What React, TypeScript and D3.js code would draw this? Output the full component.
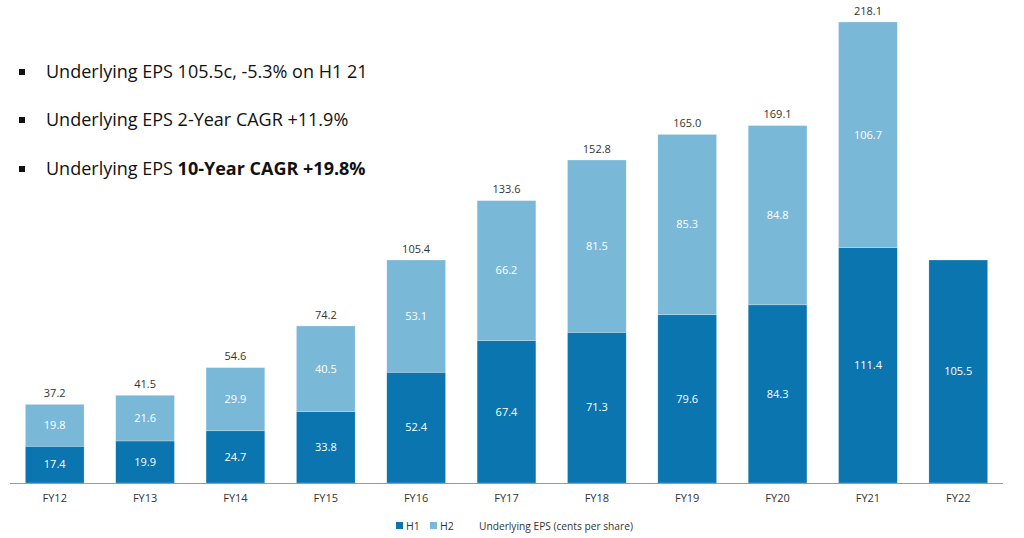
import * as d3 from 'd3';

const years = ['FY12', 'FY13', 'FY14', 'FY15', 'FY16', 'FY17', 'FY18', 'FY19', 'FY20', 'FY21', 'FY22'];
const h1 = [17.4, 19.9, 24.7, 33.8, 52.4, 67.4, 71.3, 79.6, 84.3, 111.4, 105.5];
const h2: (number | null)[] = [19.8, 21.6, 29.9, 40.5, 53.1, 66.2, 81.5, 85.3, 84.8, 106.7, null];
const totals: (number | null)[] = [37.2, 41.5, 54.6, 74.2, 105.4, 133.6, 152.8, 165.0, 169.1, 218.1, null];

const W = 1024;
const H = 538;
const C1 = '#0a75ae';
const C2 = '#7ab8d8';
const font = "'Open Sans', 'Liberation Sans', sans-serif";

export default function App() {
  const x = d3.scaleBand<string>().domain(years).range([10, 1003]).paddingInner(0.35).paddingOuter(0.17);
  const y = d3.scaleLinear().domain([0, 218.1]).range([483, 22]);
  const bw = x.bandwidth();

  return (
    <svg width={W} height={H} style={{ position: 'absolute', left: 0, top: 0, background: '#fff' }} fontFamily={font}>
      {/* bullets */}
      {[
        [<tspan>Underlying EPS 105.5c, -5.3% on H1 21</tspan>, 72],
        [<tspan>Underlying EPS 2-Year CAGR +11.9%</tspan>, 120],
        [<><tspan>Underlying EPS </tspan><tspan fontWeight={700}>10-Year CAGR +19.8%</tspan></>, 169],
      ].map(([t, cy], i) => (
        <g key={i}>
          <rect x={19} y={(cy as number) - 3} width={6} height={6} fill="#111" />
          <text x={46} y={cy as number} dy="0.35em" fontSize={18} fill="#111">{t}</text>
        </g>
      ))}

      {years.map((yr, i) => {
        const x0 = x(yr)!;
        const cx = x0 + bw / 2;
        const a = h1[i];
        const b = h2[i];
        const tot = totals[i];
        return (
          <g key={yr}>
            <rect x={x0} y={y(a)} width={bw} height={y(0) - y(a)} fill={C1} stroke="#fff" strokeOpacity={0.4} strokeWidth={0.6} />
            <text x={cx} y={(y(0) + y(a)) / 2} dy="0.35em" textAnchor="middle" fontSize={11} fill="#fff">{a.toFixed(1)}</text>
            {b != null && (
              <>
                <rect x={x0} y={y(a + b)} width={bw} height={y(a) - y(a + b)} fill={C2} stroke="#fff" strokeOpacity={0.4} strokeWidth={0.6} />
                <text x={cx} y={(y(a) + y(a + b)) / 2} dy="0.35em" textAnchor="middle" fontSize={11} fill="#fff">{b.toFixed(1)}</text>
              </>
            )}
            {tot != null && (
              <text x={cx} y={y(tot) - 11} dy="0.35em" textAnchor="middle" fontSize={11} fill="#333">{tot.toFixed(1)}</text>
            )}
            <text x={cx} y={498} dy="0.35em" textAnchor="middle" fontSize={11} fill="#333">{yr}</text>
          </g>
        );
      })}

      <line x1={10} x2={1003} y1={483.5} y2={483.5} stroke="#999" strokeWidth={1.2} />

      {/* legend */}
      <rect x={396} y={522} width={7} height={7} fill={C1} />
      <text x={406} y={526} dy="0.35em" fontSize={10.5} fill="#333">H1</text>
      <rect x={430} y={522} width={7} height={7} fill={C2} />
      <text x={440} y={526} dy="0.35em" fontSize={10.5} fill="#333">H2</text>
      <text x={479} y={526} dy="0.35em" fontSize={10.2} fill="#333">Underlying EPS (cents per share)</text>
    </svg>
  );
}
